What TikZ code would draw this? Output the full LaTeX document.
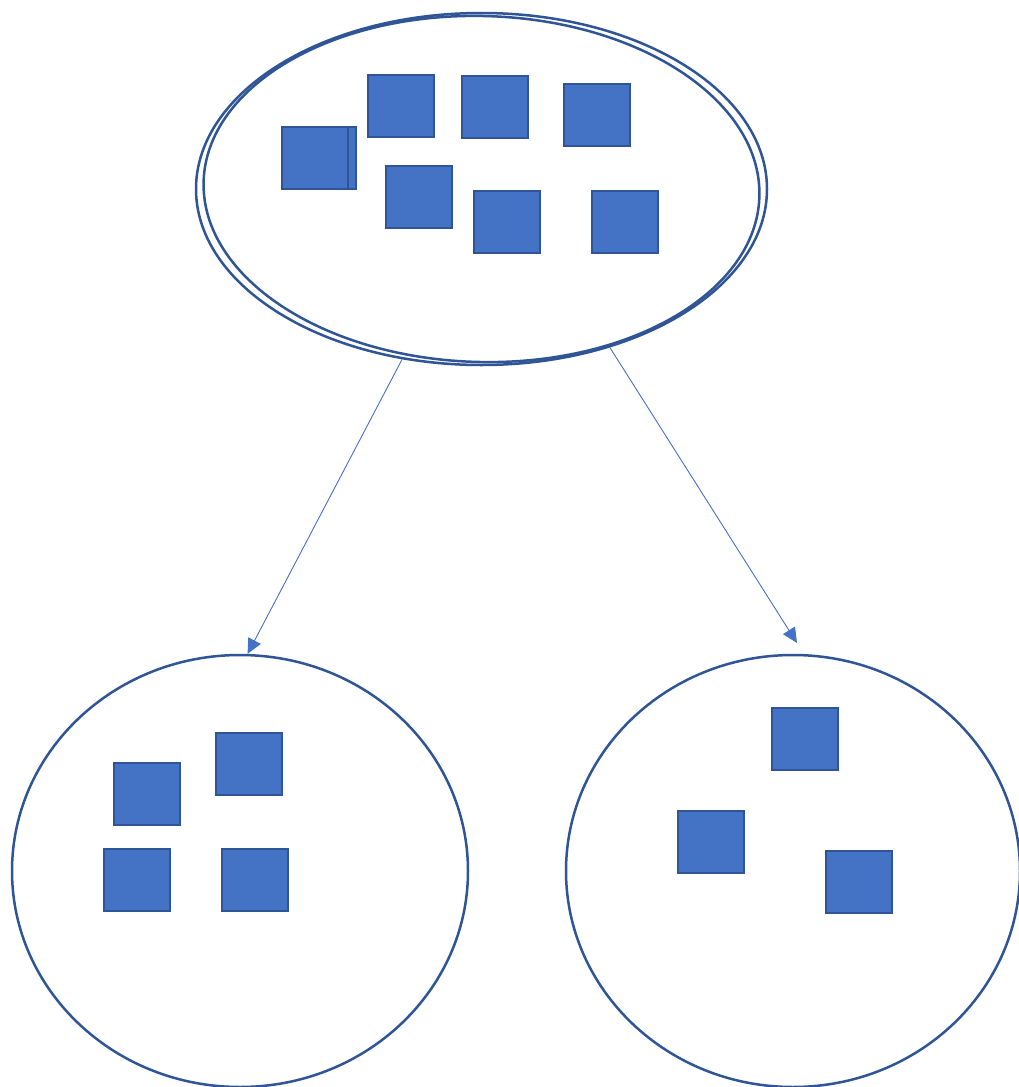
\documentclass[tikz,border=0pt]{standalone}
\usetikzlibrary{shapes.geometric,arrows.meta}
\definecolor{boxfill}{HTML}{4472C4}
\definecolor{boxline}{HTML}{2F5597}
\definecolor{arrline}{HTML}{4472C4}
\tikzset{
  blob/.style={ellipse,draw=boxline,line width=2.5pt,inner sep=0pt,fill=none},
  sq/.style={rectangle,draw=boxline,fill=boxfill,line width=2pt,inner sep=0pt,minimum width=66pt,minimum height=62pt},
  arr/.style={draw=arrline,line width=0.9pt,-{Triangle[length=15pt,width=14pt]}}
}
\begin{document}
\begin{tikzpicture}[x=1pt,y=-1pt]
\useasboundingbox (0,0) rectangle (1018,1087);
\fill[white] (0,0) rectangle (1018,1087);
% top double ellipse
\node[blob,minimum width=571pt,minimum height=352pt] (top) at (481.5,189) {};
\node[blob,minimum width=556pt,minimum height=346pt,rotate=-1.5] (topin) at (481.5,189) {};
% bottom ellipses
\node[blob,minimum width=456pt,minimum height=432pt] (bl) at (240,871) {};
\node[blob,minimum width=454pt,minimum height=432pt] (br) at (793,871) {};
% squares in top
\node[sq] (t1) at (401,106) {};
\node[sq] (t2) at (495,107) {};
\node[sq] (t3) at (597,115) {};
\node[sq] (t4b) at (323,158) {};
\node[sq] (t4) at (315,158) {};
\node[sq] (t5) at (419,197) {};
\node[sq] (t6) at (507,222) {};
\node[sq] (t7) at (625,222) {};
% squares bottom left
\node[sq] (l1) at (147,794) {};
\node[sq] (l2) at (249,764) {};
\node[sq] (l3) at (137,880) {};
\node[sq] (l4) at (255,880) {};
% squares bottom right
\node[sq] (r1) at (805,739) {};
\node[sq] (r2) at (711,842) {};
\node[sq] (r3) at (859,882) {};
% arrows
\coordinate (rtip) at (797,643);
\draw[arr] (top.245.9) -- (bl.88.7);
\draw[arr] (top.309) -- (rtip);
\end{tikzpicture}
\end{document}
